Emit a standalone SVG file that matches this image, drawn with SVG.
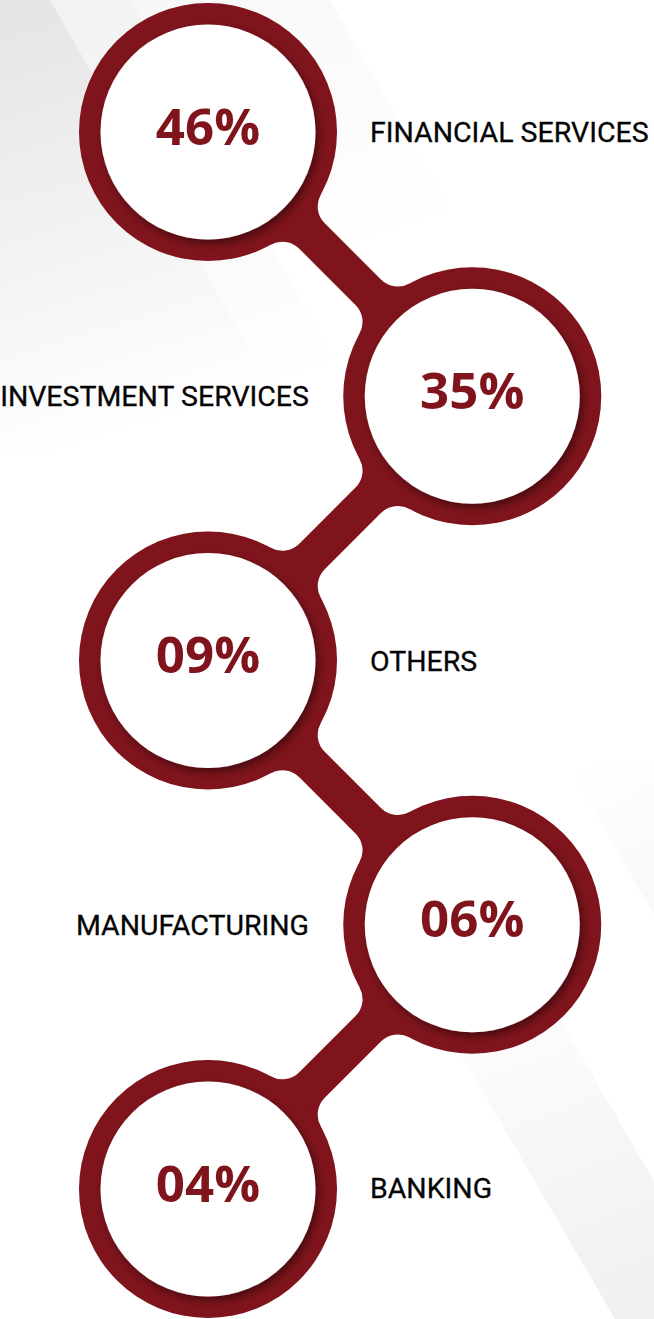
<svg xmlns="http://www.w3.org/2000/svg" xmlns:xlink="http://www.w3.org/1999/xlink" width="654" height="1319" viewBox="0 0 654 1319">
  <defs>
    <style>
      .ring { fill: #7f141c; }
      .hole { fill: #ffffff; filter: url(#innerShadow); }
      .pct { font-family: "Open Sans", "Noto Sans", "DejaVu Sans", sans-serif; font-weight: 700; font-size: 51px; fill: #7f141c; text-anchor: middle; }
      .lbl { font-family: Roboto, "Liberation Sans", Arial, sans-serif; font-weight: 400; font-size: 28.5px; fill: #050505; stroke: #050505; stroke-width: 0.3; }
      .end { text-anchor: end; }
    </style>
    <filter id="innerShadow" x="-20%" y="-20%" width="150%" height="150%">
      <feDropShadow dx="3" dy="4" stdDeviation="4" flood-color="#000000" flood-opacity="0.45"/>
    </filter>
    <linearGradient id="fadeTL" gradientUnits="userSpaceOnUse" x1="0" y1="0" x2="140" y2="440">
      <stop offset="0" stop-color="#000" stop-opacity="0.055"/>
      <stop offset="1" stop-color="#000" stop-opacity="0"/>
    </linearGradient>
    <linearGradient id="fadeTL2" gradientUnits="userSpaceOnUse" x1="150" y1="0" x2="260" y2="300">
      <stop offset="0" stop-color="#000" stop-opacity="0.03"/>
      <stop offset="1" stop-color="#000" stop-opacity="0"/>
    </linearGradient>
    <linearGradient id="fadeBR" gradientUnits="userSpaceOnUse" x1="600" y1="1319" x2="470" y2="960">
      <stop offset="0" stop-color="#000" stop-opacity="0.06"/>
      <stop offset="1" stop-color="#000" stop-opacity="0"/>
    </linearGradient>
    <linearGradient id="fadeR" gradientUnits="userSpaceOnUse" x1="654" y1="880" x2="580" y2="760">
      <stop offset="0" stop-color="#000" stop-opacity="0.025"/>
      <stop offset="1" stop-color="#000" stop-opacity="0"/>
    </linearGradient>
    <path id="conn" d="M 112.71 62.65 A 24 24 0 0 0 116.75 91.29 L 172.96 147.5 A 24 24 0 0 0 201.6 151.54 L 264.25 264.25 L 151.54 201.6 A 24 24 0 0 0 147.5 172.96 L 91.29 116.75 A 24 24 0 0 0 62.65 112.71 L 0 0 Z"/>
  </defs>

  <g id="background">
    <rect x="0" y="0" width="654" height="1319" fill="#ffffff"/>
    <polygon points="0,0 50,0 307,450 0,450" fill="url(#fadeTL)"/>
    <polygon points="0,0 130,0 387,450 0,450" fill="url(#fadeTL)"/>
    <polygon points="130,0 330,0 470,245 270,245" fill="url(#fadeTL2)"/>
    <polygon points="400,950 520,950 654,1181 654,1319 615,1319" fill="url(#fadeBR)"/>
    <polygon points="565,760 654,760 654,915" fill="url(#fadeR)"/>
  </g>

  <g id="connectors" class="ring">
    <use xlink:href="#conn" href="#conn" transform="translate(208,132)"/>
    <use xlink:href="#conn" href="#conn" transform="translate(472.25,396.25) scale(-1,1)"/>
    <use xlink:href="#conn" href="#conn" transform="translate(208,660.5)"/>
    <use xlink:href="#conn" href="#conn" transform="translate(472.25,924.75) scale(-1,1)"/>
  </g>

  <g id="node-financial">
    <circle class="ring" cx="208" cy="132" r="129"/>
    <circle class="hole" cx="208" cy="132" r="107.5"/>
    <text class="pct" x="208" y="144.5">46%</text>
    <text class="lbl" x="370" y="142">FINANCIAL SERVICES</text>
  </g>

  <g id="node-investment">
    <circle class="ring" cx="472.25" cy="396.25" r="129"/>
    <circle class="hole" cx="472.25" cy="396.25" r="107.5"/>
    <text class="pct" x="472.25" y="408.75">35%</text>
    <text class="lbl end" x="309" y="406">INVESTMENT SERVICES</text>
  </g>

  <g id="node-others">
    <circle class="ring" cx="208" cy="660.5" r="129"/>
    <circle class="hole" cx="208" cy="660.5" r="107.5"/>
    <text class="pct" x="208" y="673">09%</text>
    <text class="lbl" x="370" y="670.5">OTHERS</text>
  </g>

  <g id="node-manufacturing">
    <circle class="ring" cx="472.25" cy="924.75" r="129"/>
    <circle class="hole" cx="472.25" cy="924.75" r="107.5"/>
    <text class="pct" x="472.25" y="937.25">06%</text>
    <text class="lbl end" x="309" y="935">MANUFACTURING</text>
  </g>

  <g id="node-banking">
    <circle class="ring" cx="208" cy="1189" r="129"/>
    <circle class="hole" cx="208" cy="1189" r="107.5"/>
    <text class="pct" x="208" y="1201.5">04%</text>
    <text class="lbl" x="370" y="1198">BANKING</text>
  </g>
</svg>
